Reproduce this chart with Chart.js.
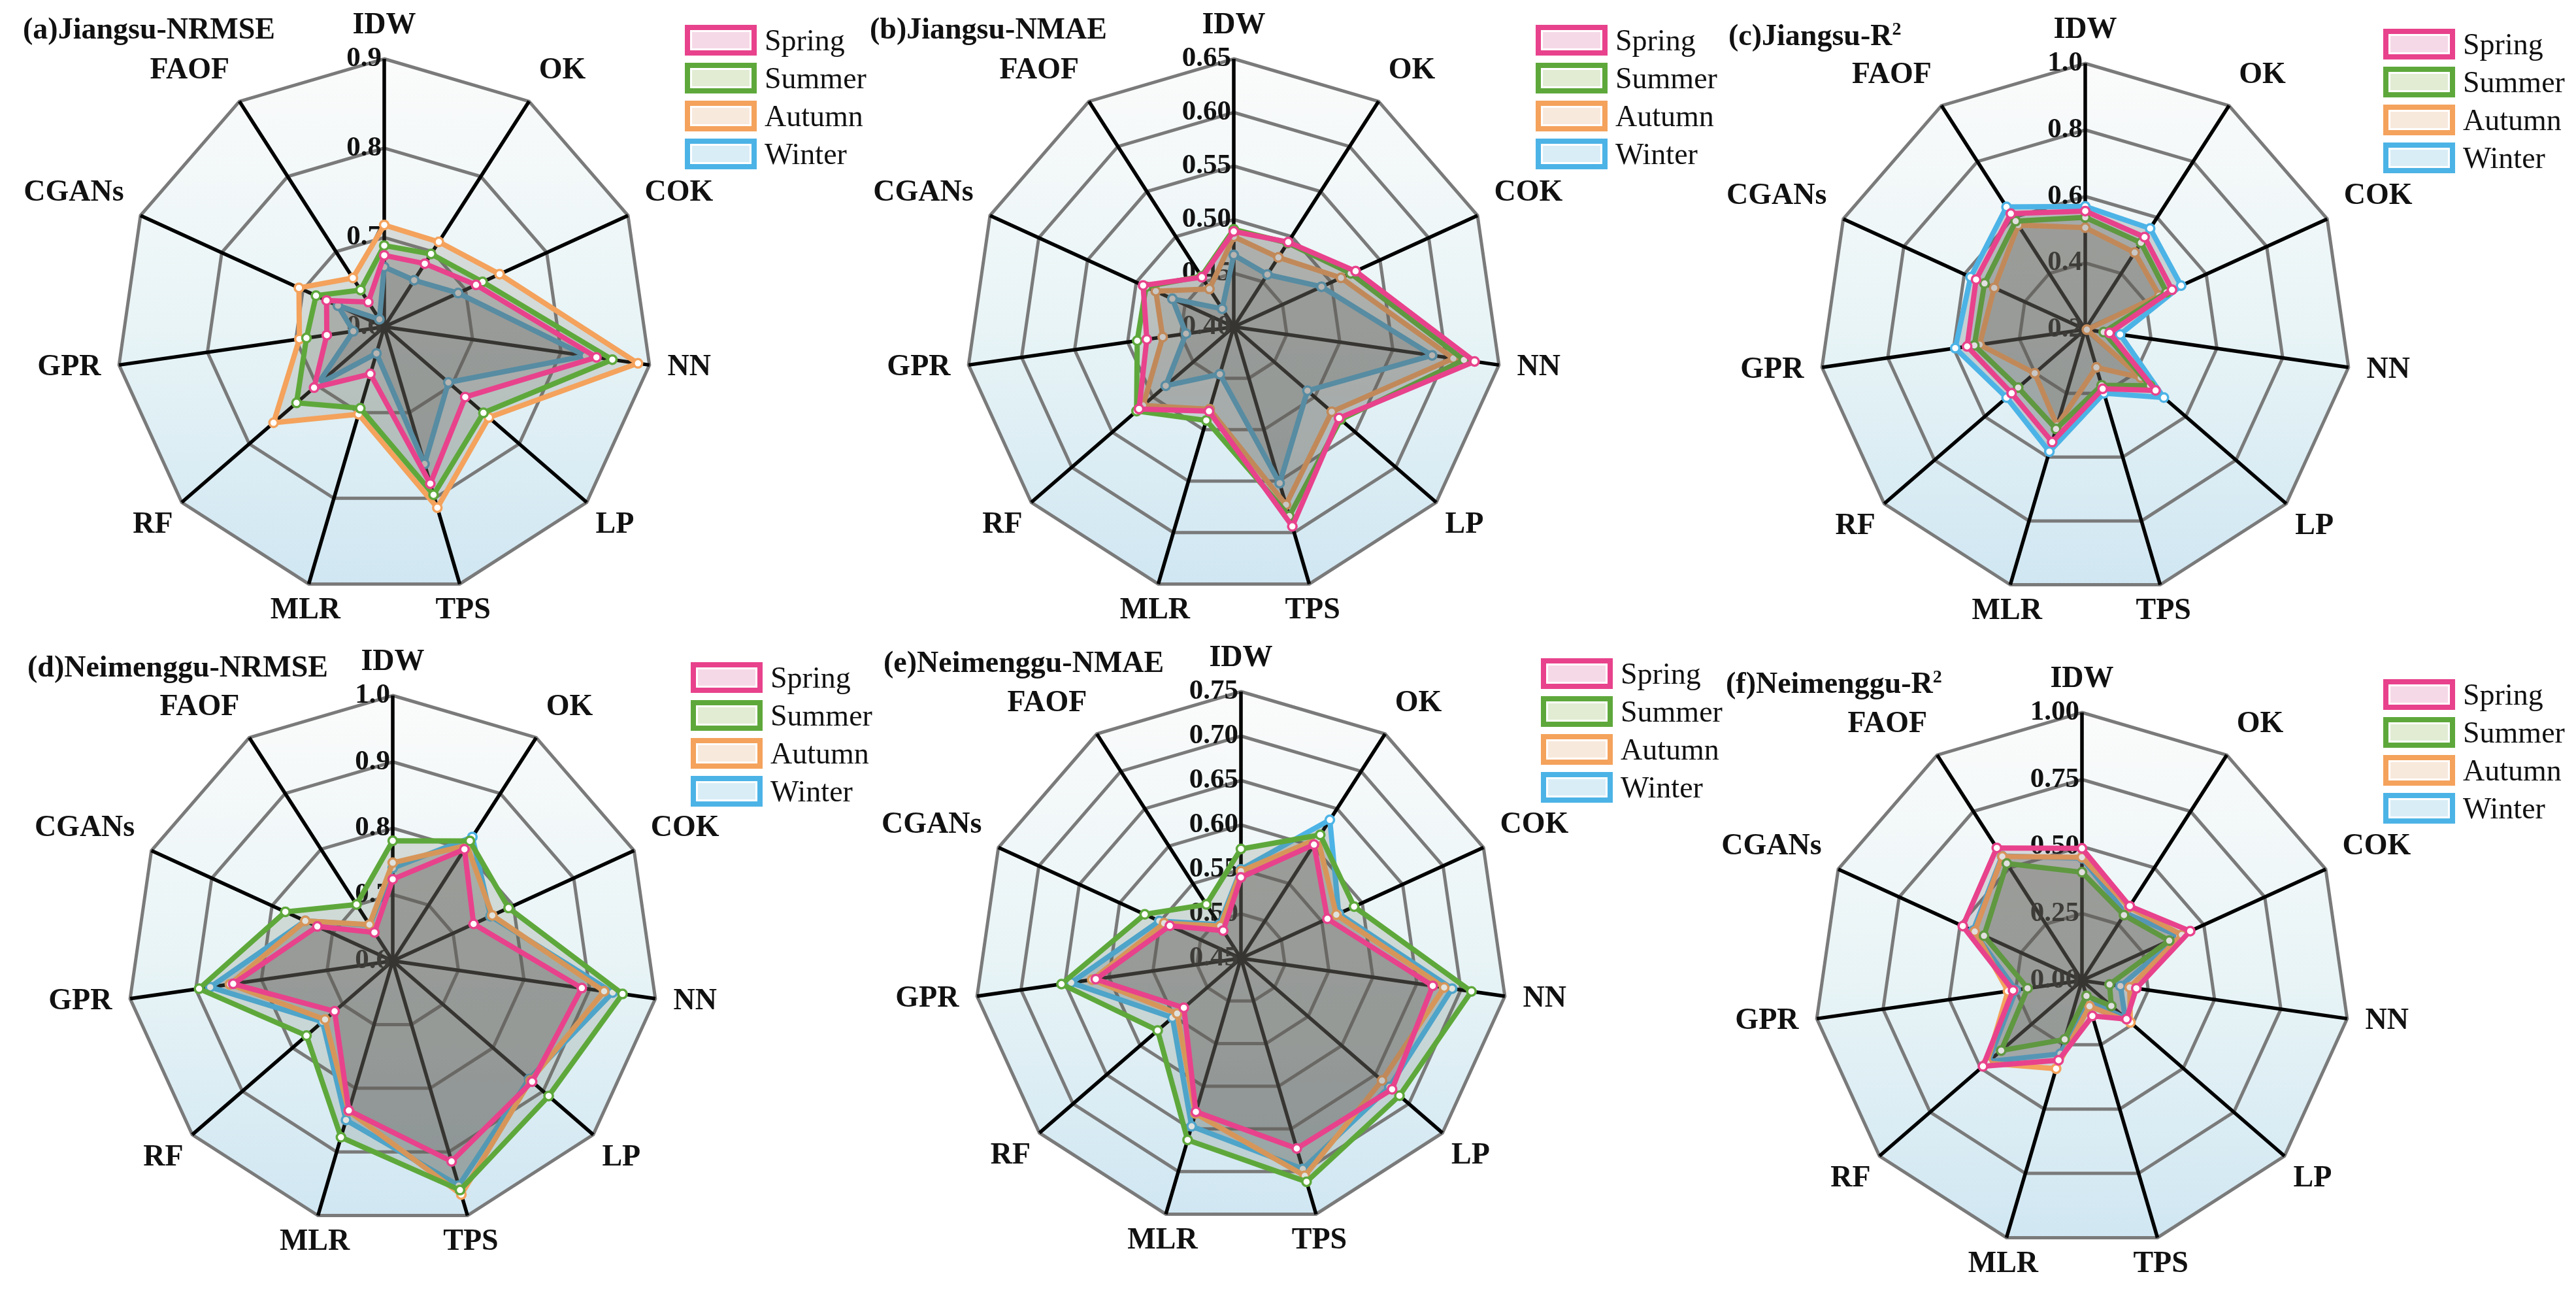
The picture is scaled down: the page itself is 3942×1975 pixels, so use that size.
<!DOCTYPE html>
<html>
<head>
<meta charset="utf-8">
<title>Seasonal interpolation accuracy - radar charts</title>
<script src="https://cdn.jsdelivr.net/npm/chart.js@4.4.1/dist/chart.umd.min.js"></script>
<style>
  html, body { margin: 0; padding: 0; background: #fff; }
  body { width: 3942px; height: 1975px; position: relative; overflow: hidden;
         font-family: 'Liberation Serif', 'Times New Roman', serif; }
  canvas { position: absolute; }
  .title { position: absolute; font-weight: bold; font-size: 46px; line-height: 1; white-space: nowrap; color: #111; }
  .title sup { font-size: 28px; line-height: 0; vertical-align: super; }
  .legend { position: absolute; }
  .legend .item { display: flex; align-items: center; height: 58px; }
  .legend .box { box-sizing: border-box; width: 110px; height: 47px; border: 8px solid; box-shadow: inset 0 0 0 3px #fff; }
  .legend .lbl { font-size: 46px; margin-left: 12px; line-height: 1; color: #111; }
</style>
</head>
<body>
<script>
// Categories and series
const methods = ['IDW', 'OK', 'COK', 'NN', 'LP', 'TPS', 'MLR', 'RF', 'GPR', 'CGANs', 'FAOF'];
const seasons = ['Spring', 'Summer', 'Autumn', 'Winter'];

// (a) Jiangsu NRMSE
const jsNrmseSpring = [0.680, 0.684, 0.713, 0.840, 0.720, 0.783, 0.655, 0.704, 0.665, 0.671, 0.633];
const jsNrmseSummer = [0.691, 0.697, 0.721, 0.858, 0.747, 0.796, 0.695, 0.730, 0.688, 0.684, 0.649];
const jsNrmseAutumn = [0.714, 0.713, 0.742, 0.887, 0.755, 0.811, 0.702, 0.764, 0.696, 0.705, 0.665];
const jsNrmseWinter = [0.667, 0.662, 0.691, 0.828, 0.695, 0.760, 0.631, 0.699, 0.635, 0.657, 0.610];
const jsNrmseTicks = ['0.6', '0.7', '0.8', '0.9'];

// (b) Jiangsu NMAE
const jsNmaeSpring = [0.489, 0.494, 0.525, 0.627, 0.530, 0.594, 0.482, 0.517, 0.482, 0.493, 0.455];
const jsNmaeSummer = [0.491, 0.493, 0.520, 0.617, 0.532, 0.584, 0.491, 0.520, 0.491, 0.490, 0.456];
const jsNmaeAutumn = [0.484, 0.477, 0.510, 0.607, 0.521, 0.573, 0.480, 0.512, 0.467, 0.480, 0.442];
const jsNmaeWinter = [0.467, 0.458, 0.490, 0.587, 0.491, 0.552, 0.446, 0.484, 0.445, 0.463, 0.420];
const jsNmaeTicks = ['0.40', '0.45', '0.50', '0.55', '0.60', '0.65'];

// (c) Jiangsu R2
const jsR2Spring = [0.556, 0.530, 0.487, 0.274, 0.480, 0.386, 0.553, 0.493, 0.559, 0.561, 0.614];
const jsR2Summer = [0.537, 0.510, 0.469, 0.256, 0.458, 0.375, 0.512, 0.467, 0.537, 0.533, 0.587];
const jsR2Autumn = [0.506, 0.475, 0.445, 0.205, 0.421, 0.319, 0.501, 0.401, 0.521, 0.501, 0.573];
const jsR2Winter = [0.570, 0.561, 0.517, 0.306, 0.513, 0.400, 0.583, 0.513, 0.595, 0.579, 0.638];
const jsR2Ticks = ['0.2', '0.4', '0.6', '0.8', '1.0'];

// (d) Neimenggu NRMSE
const nmNrmseSpring = [0.723, 0.800, 0.734, 0.888, 0.878, 0.915, 0.835, 0.716, 0.843, 0.725, 0.651];
const nmNrmseSummer = [0.781, 0.815, 0.792, 0.950, 0.911, 0.960, 0.877, 0.772, 0.895, 0.778, 0.701];
const nmNrmseAutumn = [0.748, 0.807, 0.765, 0.922, 0.875, 0.967, 0.836, 0.735, 0.848, 0.745, 0.665];
const nmNrmseWinter = [0.740, 0.822, 0.762, 0.935, 0.872, 0.953, 0.850, 0.740, 0.878, 0.745, 0.664];
const nmNrmseTicks = ['0.6', '0.7', '0.8', '0.9', '1.0'];

// (e) Neimenggu NMAE
const nmNmaeSpring = [0.541, 0.602, 0.557, 0.668, 0.675, 0.673, 0.630, 0.535, 0.615, 0.538, 0.487];
const nmNmaeSummer = [0.573, 0.615, 0.590, 0.712, 0.686, 0.712, 0.663, 0.574, 0.654, 0.569, 0.522];
const nmNmaeAutumn = [0.548, 0.610, 0.568, 0.681, 0.660, 0.705, 0.632, 0.545, 0.619, 0.545, 0.493];
const nmNmaeWinter = [0.550, 0.635, 0.571, 0.690, 0.671, 0.697, 0.647, 0.552, 0.643, 0.551, 0.495];
const nmNmaeTicks = ['0.45', '0.50', '0.55', '0.60', '0.65', '0.70', '0.75'];

// (f) Neimenggu R2
const nmR2Spring = [0.493, 0.330, 0.444, 0.205, 0.220, 0.138, 0.310, 0.489, 0.260, 0.489, 0.588];
const nmR2Summer = [0.404, 0.290, 0.358, 0.104, 0.145, 0.060, 0.229, 0.399, 0.205, 0.402, 0.519];
const nmR2Autumn = [0.460, 0.325, 0.410, 0.180, 0.239, 0.100, 0.343, 0.470, 0.279, 0.440, 0.550];
const nmR2Winter = [0.456, 0.299, 0.399, 0.145, 0.214, 0.078, 0.285, 0.462, 0.249, 0.447, 0.552];
const nmR2Ticks = ['0.00', '0.25', '0.50', '0.75', '1.00'];

// Styling
const lineColors = ['#e8428c', '#5ea83b', '#f4a25c', '#4cb3e6'];
const areaColors = ['rgba(100,84,92,0.19)', 'rgba(90,100,80,0.19)', 'rgba(115,104,92,0.19)', 'rgba(72,80,88,0.22)'];
const legendFills = ['#f6d9e7', '#e2ecd3', '#f8e9dd', '#d9edf6'];
const CANVAS_W = 1200;
const CANVAS_H = 980;

const panels = [
  { title: '(a)Jiangsu-NRMSE', sup: '', series: [jsNrmseSpring, jsNrmseSummer, jsNrmseAutumn, jsNrmseWinter], ticks: jsNrmseTicks,
    min: 0.6, max: 0.9, step: 0.1, cx: 588, cy: 500, r: 410, titleX: 35, titleY: 44, legX: 1048, legY: 38 },
  { title: '(b)Jiangsu-NMAE', sup: '', series: [jsNmaeSpring, jsNmaeSummer, jsNmaeAutumn, jsNmaeWinter], ticks: jsNmaeTicks,
    min: 0.40, max: 0.65, step: 0.05, cx: 1888, cy: 500, r: 410, titleX: 1331, titleY: 44, legX: 2350, legY: 38 },
  { title: '(c)Jiangsu-R', sup: '2', series: [jsR2Spring, jsR2Summer, jsR2Autumn, jsR2Winter], ticks: jsR2Ticks,
    min: 0.2, max: 1.0, step: 0.2, cx: 3191, cy: 504, r: 407, titleX: 2645, titleY: 54, legX: 3647, legY: 44 },
  { title: '(d)Neimenggu-NRMSE', sup: '', series: [nmNrmseSpring, nmNrmseSummer, nmNrmseAutumn, nmNrmseWinter], ticks: nmNrmseTicks,
    min: 0.6, max: 1.0, step: 0.1, cx: 601, cy: 1470, r: 406, titleX: 42, titleY: 1020, legX: 1057, legY: 1013 },
  { title: '(e)Neimenggu-NMAE', sup: '', series: [nmNmaeSpring, nmNmaeSummer, nmNmaeAutumn, nmNmaeWinter], ticks: nmNmaeTicks,
    min: 0.45, max: 0.75, step: 0.05, cx: 1899, cy: 1466, r: 408, titleX: 1352, titleY: 1013, legX: 2358, legY: 1007 },
  { title: '(f)Neimenggu-R', sup: '2', series: [nmR2Spring, nmR2Summer, nmR2Autumn, nmR2Winter], ticks: nmR2Ticks,
    min: 0, max: 1, step: 0.25, cx: 3186, cy: 1500, r: 410, titleX: 2641, titleY: 1045, legX: 3647, legY: 1039 }
];

// Light gradient inside the outer polygon
const polygonBackground = {
  id: 'polygonBackground',
  beforeDraw(chart) {
    const scale = chart.scales.r;
    const ctx = chart.ctx;
    const top = scale.yCenter - scale.drawingArea;
    const bottom = scale.yCenter + scale.drawingArea;
    const grad = ctx.createLinearGradient(0, top, 0, bottom);
    grad.addColorStop(0, '#fbfbfb');
    grad.addColorStop(0.5, '#e8f4f6');
    grad.addColorStop(1, '#cfe6f2');
    ctx.save();
    ctx.beginPath();
    chart.data.labels.forEach((_, i) => {
      const p = scale.getPointPosition(i, scale.drawingArea);
      if (i === 0) ctx.moveTo(p.x, p.y); else ctx.lineTo(p.x, p.y);
    });
    ctx.closePath();
    ctx.fillStyle = grad;
    ctx.fill();
    ctx.restore();
  }
};

// Tick labels placed just left of the vertical axis
function makeTickLabels(labels) {
  return {
    id: 'tickLabels',
    beforeDatasetsDraw(chart) {
      const scale = chart.scales.r;
      const ctx = chart.ctx;
      ctx.save();
      ctx.font = 'bold 43px "Liberation Serif", "Times New Roman", serif';
      ctx.fillStyle = '#111';
      ctx.textAlign = 'right';
      ctx.textBaseline = 'middle';
      labels.forEach(t => {
        const d = scale.getDistanceFromCenterForValue(parseFloat(t));
        ctx.fillText(t, scale.xCenter - 4, scale.yCenter - d);
      });
      ctx.restore();
    }
  };
}

// Method names around the polygon
const methodLabels = {
  id: 'methodLabels',
  afterDraw(chart) {
    const scale = chart.scales.r;
    const ctx = chart.ctx;
    ctx.save();
    ctx.font = 'bold 46px "Liberation Serif", "Times New Roman", serif';
    ctx.fillStyle = '#111';
    chart.data.labels.forEach((name, i) => {
      const a = scale.getIndexAngle(i);
      const s = Math.sin(a), c = Math.cos(a);
      const pad = c < -0.3 ? 18 : 28;
      const p = scale.getPointPosition(i, scale.drawingArea + pad);
      ctx.textAlign = Math.abs(s) < 0.35 ? 'center' : (s > 0 ? 'left' : 'right');
      ctx.textBaseline = c > 0.3 ? 'bottom' : (c < -0.3 ? 'top' : 'middle');
      ctx.fillText(name, p.x, p.y);
    });
    ctx.restore();
  }
};

function addTitle(panel) {
  const div = document.createElement('div');
  div.className = 'title';
  div.style.left = panel.titleX + 'px';
  div.style.top = (panel.titleY - 23) + 'px';
  div.textContent = panel.title;
  if (panel.sup) {
    const sup = document.createElement('sup');
    sup.textContent = panel.sup;
    div.appendChild(sup);
  }
  document.body.appendChild(div);
}

function addLegend(panel) {
  const box = document.createElement('div');
  box.className = 'legend';
  box.style.left = panel.legX + 'px';
  box.style.top = (panel.legY - 5.5) + 'px';
  seasons.forEach((s, k) => {
    const item = document.createElement('div');
    item.className = 'item';
    const sw = document.createElement('span');
    sw.className = 'box';
    sw.style.borderColor = lineColors[k];
    sw.style.background = legendFills[k];
    const lbl = document.createElement('span');
    lbl.className = 'lbl';
    lbl.textContent = s;
    item.appendChild(sw);
    item.appendChild(lbl);
    box.appendChild(item);
  });
  document.body.appendChild(box);
}

function addChart(panel) {
  const canvas = document.createElement('canvas');
  canvas.width = CANVAS_W;
  canvas.height = CANVAS_H;
  canvas.style.width = CANVAS_W + 'px';
  canvas.style.height = CANVAS_H + 'px';
  canvas.style.left = (panel.cx - CANVAS_W / 2) + 'px';
  canvas.style.top = (panel.cy - CANVAS_H / 2) + 'px';
  document.body.appendChild(canvas);

  const padX = CANVAS_W / 2 - panel.r;
  const padY = CANVAS_H / 2 - panel.r;

  new Chart(canvas, {
    type: 'radar',
    data: {
      labels: methods,
      datasets: seasons.map((s, k) => ({
        label: s,
        data: panel.series[k],
        borderColor: lineColors[k],
        backgroundColor: areaColors[k],
        fill: true,
        borderWidth: 8,
        borderJoinStyle: 'round',
        tension: 0,
        pointRadius: 6.5,
        pointBorderWidth: 3.5,
        pointBackgroundColor: '#ffffff',
        pointBorderColor: lineColors[k]
      }))
    },
    options: {
      responsive: false,
      devicePixelRatio: 1,
      animation: false,
      layout: { padding: { left: padX, right: padX, top: padY, bottom: padY } },
      plugins: {
        legend: { display: false },
        tooltip: { enabled: false }
      },
      scales: {
        r: {
          min: panel.min,
          max: panel.max,
          ticks: { display: false, stepSize: panel.step },
          grid: { color: '#7a7a7a', lineWidth: 5 },
          angleLines: { color: '#000000', lineWidth: 5.5 },
          pointLabels: { display: false }
        }
      }
    },
    plugins: [polygonBackground, makeTickLabels(panel.ticks), methodLabels]
  });
}

panels.forEach(p => {
  addChart(p);
  addTitle(p);
  addLegend(p);
});
</script>
</body>
</html>
